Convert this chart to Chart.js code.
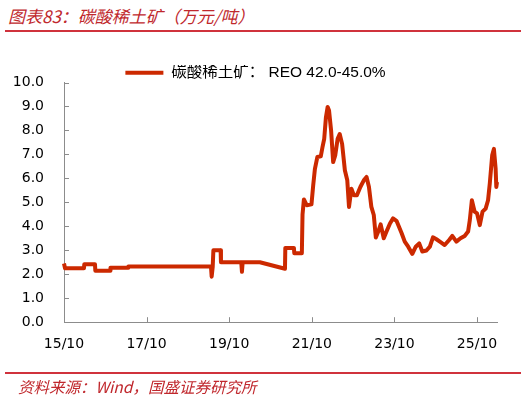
<!DOCTYPE html>
<html>
<head>
<meta charset="utf-8">
<script src="https://cdn.jsdelivr.net/npm/chart.js@4/dist/chart.umd.min.js"></script>
<style>
  body { margin: 0; width: 526px; height: 398px; background: #fff; position: relative; overflow: hidden; }
  #title { position: absolute; left: 8px; top: 3px; font: italic 17px "Noto Sans CJK SC", "Liberation Sans", sans-serif; color: #c0282d; white-space: nowrap; }
  #source { position: absolute; left: 18px; top: 375px; font: italic 15.5px "Noto Sans CJK SC", "Liberation Sans", sans-serif; color: #c0282d; white-space: nowrap; }
  .rule { position: absolute; left: 5px; width: 516px; height: 2px; background: #d0323c; }
  #wrap { position: absolute; left: 0; top: 40px; width: 526px; height: 337px; }
</style>
</head>
<body>
<div id="title">图表83：碳酸稀土矿（万元/吨）</div>
<div class="rule" style="top:30px"></div>
<div id="wrap"><canvas id="chart"></canvas></div>
<div class="rule" style="top:372px"></div>
<div id="source">资料来源：Wind，国盛证券研究所</div>
<script>
// months counted from Oct 2015
const months = [0, 0.3, 5.8, 5.9, 9.0, 9.1, 13.4, 13.5, 18.6, 18.7, 42.7, 42.9, 43.2, 43.4, 45.5, 45.6,
  51.5, 51.7, 51.9, 56.9, 64.2, 64.3, 66.8, 66.9, 69.1, 69.3, 69.7, 70.5, 71.9, 72.4, 72.9, 73.6,
  74.6, 75.1, 75.6, 76.1, 76.6, 77.0, 77.6, 78.2, 78.8, 79.5, 80.1, 80.8, 81.6, 82.3, 82.8, 83.5,
  84.2, 85.1, 86.1, 87.1, 87.9, 88.6, 89.3, 90.0, 90.6, 91.3, 92.0, 92.9, 93.7, 94.7, 95.6, 96.6,
  98.1, 99.0, 100.0, 101.2, 102.2, 103.2, 104.1, 105.3, 106.3, 107.2, 108.2, 109.2, 110.6, 111.9,
  112.8, 114.0, 115.2, 116.4, 117.4, 117.9, 118.5, 119.3, 120.0, 120.8, 121.6, 122.5, 123.2, 123.7,
  124.4, 124.9, 125.4, 125.6, 125.8];
const prices = [2.45, 2.25, 2.25, 2.42, 2.42, 2.15, 2.15, 2.27, 2.27, 2.32, 2.32, 1.9, 2.3, 3.0, 3.0, 2.5,
  2.5, 2.1, 2.5, 2.5, 2.23, 3.1, 3.1, 2.88, 2.88, 4.5, 5.12, 4.88, 4.92, 5.71, 6.4, 6.89,
  6.92, 7.3, 7.65, 8.55, 8.98, 8.83, 8.0, 6.68, 6.96, 7.65, 7.85, 7.44, 6.34, 5.92, 4.81, 5.57,
  5.3, 5.3, 5.64, 5.92, 6.06, 5.64, 4.81, 4.47, 3.53, 3.78, 4.08, 3.5, 3.78, 4.12, 4.33, 4.23,
  3.71, 3.36, 3.15, 2.85, 3.15, 3.29, 2.95, 2.99, 3.15, 3.54, 3.46, 3.36, 3.22, 3.43,
  3.6, 3.36, 3.5, 3.6, 3.78, 4.26, 5.09, 4.61, 4.54, 4.05, 4.61, 4.74, 5.09, 5.78,
  6.96, 7.23, 6.4, 5.64, 5.85];
const xTickMonths = [0, 24, 48, 72, 96, 120];
const xTickLabels = ['15/10', '17/10', '19/10', '21/10', '23/10', '25/10'];
const seriesName = '碳酸稀土矿： REO 42.0-45.0%';

const lineColor = '#cc2900';
const axisColor = '#8c8c8c';

// short tick marks pointing into the plot
const innerTicks = {
  id: 'innerTicks',
  afterDraw(chart) {
    const c = chart.ctx;
    const xs = chart.scales.x, ys = chart.scales.y;
    c.save();
    c.strokeStyle = axisColor;
    c.lineWidth = 1;
    c.beginPath();
    ys.ticks.forEach(t => {
      const py = Math.round(ys.getPixelForValue(t.value)) + 0.5;
      c.moveTo(xs.left, py);
      c.lineTo(xs.left + 5, py);
    });
    xs.ticks.forEach(t => {
      const px = Math.round(xs.getPixelForValue(t.value)) + 0.5;
      c.moveTo(px, ys.bottom);
      c.lineTo(px, ys.bottom - 5);
    });
    c.stroke();
    c.restore();
  }
};

// legend sits close to the plot, so trim its box
const tightLegend = {
  id: 'tightLegend',
  beforeInit(chart) {
    const fit = chart.legend.fit;
    chart.legend.fit = function () {
      fit.call(this);
      this.height -= 8;
    };
  }
};

new Chart(document.getElementById('chart'), {
  type: 'line',
  data: {
    datasets: [{
      label: seriesName,
      data: months.map((m, i) => ({ x: m, y: prices[i] })),
      borderColor: lineColor,
      backgroundColor: lineColor,
      borderWidth: 4,
      pointRadius: 0,
      tension: 0,
      borderJoinStyle: 'round',
      pointStyle: 'line',
      clip: false
    }]
  },
  options: {
    responsive: true,
    maintainAspectRatio: false,
    animation: false,
    layout: { padding: { left: 14, right: 29, top: 25, bottom: 18 } },
    plugins: {
      tooltip: { enabled: false },
      legend: {
        position: 'top',
        labels: {
          usePointStyle: true,
          pointStyleWidth: 38,
          padding: 0,
          color: '#000',
          font: { size: 15.5, family: '"Liberation Sans", "Noto Sans CJK SC", sans-serif' }
        }
      }
    },
    scales: {
      x: {
        type: 'linear',
        min: 0,
        max: 125.8,
        afterBuildTicks: s => { s.ticks = xTickMonths.map(v => ({ value: v })); },
        grid: { display: false },
        border: { color: axisColor, width: 1 },
        ticks: {
          padding: 6,
          color: '#000',
          maxRotation: 0,
          font: { size: 14, family: '"DejaVu Sans", sans-serif' },
          callback: v => xTickLabels[xTickMonths.indexOf(v)]
        }
      },
      y: {
        min: 0,
        max: 10,
        afterFit: s => { s.width = 50; },
        grid: { display: false },
        border: { color: axisColor, width: 1 },
        ticks: {
          stepSize: 1,
          padding: 12,
          color: '#000',
          font: { size: 14, family: '"DejaVu Sans", sans-serif' },
          callback: v => v.toFixed(1)
        }
      }
    }
  },
  plugins: [innerTicks, tightLegend]
});
</script>
</body>
</html>
